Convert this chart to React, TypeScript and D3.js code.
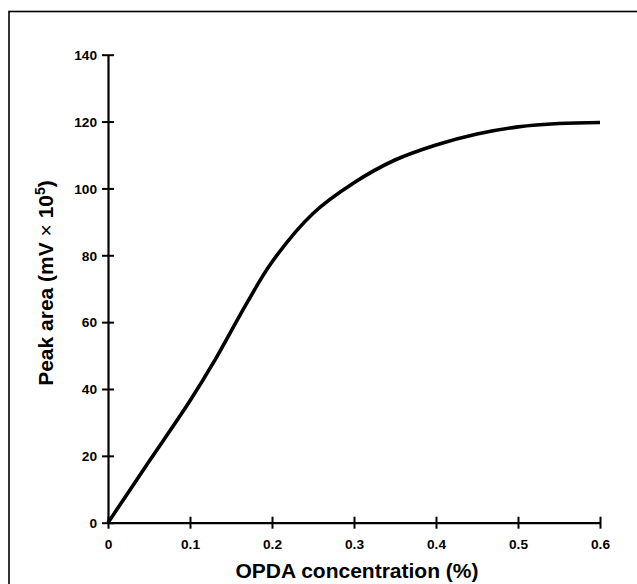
import React, { useEffect, useRef } from "react";
import * as d3 from "d3";

// values
const concentration = [0, 0.05, 0.1, 0.13, 0.17, 0.2, 0.25, 0.3, 0.35, 0.4, 0.45, 0.5, 0.55, 0.6];
const peakArea = [0, 18.3, 36.5, 48.5, 66, 78, 92.5, 101.7, 108.5, 113, 116.3, 118.4, 119.4, 119.7];
const xTicks = [0, 0.1, 0.2, 0.3, 0.4, 0.5, 0.6];
const yTicks = [0, 20, 40, 60, 80, 100, 120, 140];

function App() {
  const ref = useRef<SVGSVGElement>(null);

  useEffect(() => {
    const svg = d3.select(ref.current);
    svg.selectAll("*").remove();

    const width = 637;
    const height = 584;
    const margin = { left: 108, right: 37, top: 54.7, bottom: 61.3 };

    const x = d3
      .scaleLinear()
      .domain([0, 0.6])
      .range([margin.left, width - margin.right]);
    const y = d3
      .scaleLinear()
      .domain([0, 140])
      .range([height - margin.bottom, margin.top]);

    // outer frame (runs off the right and bottom edge)
    svg
      .append("rect")
      .attr("x", 9)
      .attr("y", 11.5)
      .attr("width", 700)
      .attr("height", 700)
      .attr("fill", "none")
      .attr("stroke", "#000")
      .attr("stroke-width", 1.6);

    const font = "Liberation Sans, Arial, sans-serif";

    // x axis
    const xAxis = svg
      .append("g")
      .attr("transform", `translate(0,${y(0)})`)
      .call(
        d3
          .axisBottom(x)
          .tickValues(xTicks)
          .tickSize(0)
          .tickFormat(d => (d === 0 ? "0" : d3.format(".1f")(d as number)))
      );
    xAxis.select(".domain").attr("stroke-width", 2.2).attr("stroke", "#000");
    xAxis
      .selectAll(".tick line")
      .attr("y1", -6)
      .attr("y2", 6)
      .attr("stroke", "#000")
      .attr("stroke-width", 2);
    xAxis
      .selectAll(".tick text")
      .attr("y", 26.5)
      .attr("dy", 0)
      .attr("font-family", font)
      .attr("font-weight", "bold")
      .attr("font-size", 13.7)
      .attr("fill", "#000");

    // y axis
    const yAxis = svg
      .append("g")
      .attr("transform", `translate(${x(0)},0)`)
      .call(d3.axisLeft(y).tickValues(yTicks).tickSize(0));
    yAxis.select(".domain").attr("stroke-width", 2.2).attr("stroke", "#000");
    yAxis
      .selectAll(".tick line")
      .attr("x1", -6)
      .attr("x2", 6)
      .attr("stroke", "#000")
      .attr("stroke-width", 2);
    yAxis
      .selectAll(".tick text")
      .attr("x", -11)
      .attr("dy", "0.35em")
      .attr("font-family", font)
      .attr("font-weight", "bold")
      .attr("font-size", 13.7)
      .attr("fill", "#000");

    // curve
    const line = d3
      .line<number>()
      .x((d, i) => x(concentration[i]))
      .y(d => y(d))
      .curve(d3.curveCatmullRom.alpha(0.5));
    svg
      .append("path")
      .datum(peakArea)
      .attr("d", line)
      .attr("fill", "none")
      .attr("stroke", "#000")
      .attr("stroke-width", 3.6)
      .attr("stroke-linejoin", "round");

    // axis titles
    svg
      .append("text")
      .attr("x", 357)
      .attr("y", 578)
      .attr("text-anchor", "middle")
      .attr("font-family", font)
      .attr("font-weight", "bold")
      .attr("font-size", 21)
      .text("OPDA concentration (%)");

    const yt = svg
      .append("text")
      .attr("transform", "translate(53,283) rotate(-90)")
      .attr("text-anchor", "middle")
      .attr("font-family", font)
      .attr("font-weight", "bold")
      .attr("font-size", 21);
    yt.append("tspan").text("Peak area (mV ");
    yt.append("tspan").attr("font-weight", "normal").text("\u00d7");
    yt.append("tspan").text(" 10");
    yt.append("tspan").attr("font-size", 14).attr("dy", -8).text("5");
    yt.append("tspan").attr("dy", 8).text(")");
  }, []);

  return (
    <svg
      ref={ref}
      width={637}
      height={584}
      style={{ position: "absolute", left: 0, top: 0, background: "#fff" }}
    />
  );
}

export default App;
